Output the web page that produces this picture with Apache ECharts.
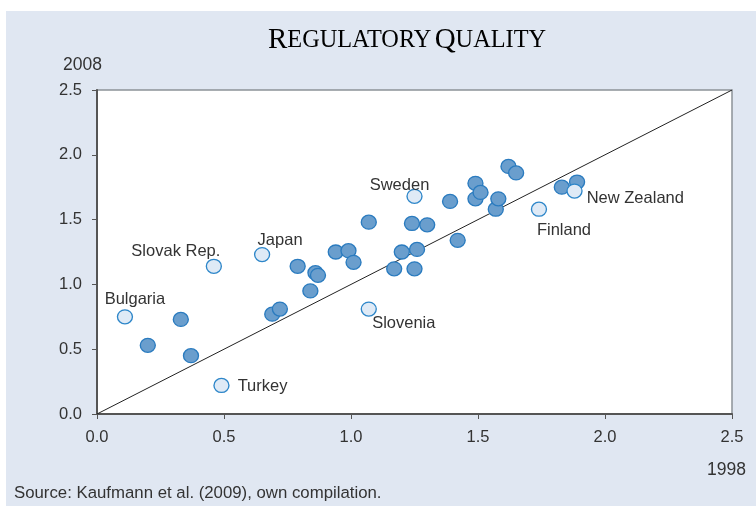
<html>
<head>
	<meta charset="UTF-8">
	<script src="https://cdn.jsdelivr.net/npm/echarts@6/dist/echarts.min.js"></script>
</head>
<body style="margin:0;background:#fff;">
<div id="chart" style="width:756px;height:506px;"></div>
<script type="text/javascript">

        // regulatory quality, x = 1998, y = 2008
        var otherX = [0.20, 0.33, 0.37, 0.69, 0.72, 0.79, 0.84, 0.86, 0.87, 0.94, 0.99, 1.01, 1.07, 1.17, 1.20, 1.25, 1.26, 1.24, 1.30, 1.39, 1.42, 1.49, 1.49, 1.51, 1.57, 1.58, 1.62, 1.65, 1.83, 1.89]
        var otherY = [0.53, 0.73, 0.45, 0.77, 0.81, 1.14, 0.95, 1.09, 1.07, 1.25, 1.26, 1.17, 1.48, 1.12, 1.25, 1.12, 1.27, 1.47, 1.46, 1.64, 1.34, 1.78, 1.66, 1.71, 1.58, 1.66, 1.91, 1.86, 1.75, 1.79]

        var countries = ['Bulgaria', 'Slovak Rep.', 'Japan', 'Turkey', 'Sweden', 'Slovenia', 'Finland', 'New Zealand']
        var countryX  = [0.11, 0.46, 0.65, 0.49, 1.25, 1.07, 1.74, 1.88]
        var countryY  = [0.75, 1.14, 1.23, 0.22, 1.68, 0.81, 1.58, 1.72]

        var ticks = [0, 0.5, 1.0, 1.5, 2.0, 2.5]

        // where each name sits next to its dot
        var labelPlace = {
            'Bulgaria':    {position: 'top', offset: [10, 4]},
            'Slovak Rep.': {position: 'top', offset: [-38, 6]},
            'Japan':       {position: 'top', offset: [18, 7]},
            'Turkey':      {position: 'right', offset: [3, 1]},
            'Sweden':      {position: 'top', offset: [-15, 10]},
            'Slovenia':    {position: 'bottom', offset: [35, -7]},
            'Finland':     {position: 'bottom', offset: [25, 0]},
            'New Zealand': {position: 'right', offset: [-1, 7]}
        }

        var otherData = []
        for (var i = 0; i < otherX.length; i++) {
            otherData.push([otherX[i], otherY[i]])
        }
        var countryData = []
        for (var j = 0; j < countries.length; j++) {
            var p = labelPlace[countries[j]]
            countryData.push({
                name: countries[j],
                value: [countryX[j], countryY[j]],
                label: {show: true, position: p.position, offset: p.offset, formatter: '{b}'}
            })
        }

        var chart = echarts.init(document.getElementById('chart'))

        var axisFont = {color: '#333', fontSize: 16.5, fontFamily: 'Liberation Sans, Arial'}

        option = {
            animation: false,
            backgroundColor: '#fff',
            graphic: [
                {type: 'rect', z: -10, shape: {x: 6, y: 11, width: 750, height: 495}, style: {fill: '#e0e7f2'}},
                {type: 'text', left: 268, top: 26, style: {
                    text: '{b|R}{s|EGULATORY} {b|Q}{s|UALITY}',
                    rich: {
                        b: {fontFamily: 'Liberation Serif', fontSize: 29, color: '#222'},
                        s: {fontFamily: 'Liberation Serif', fontSize: 24.3, color: '#222'}
                    }
                }},
                {type: 'text', left: 63, top: 56, style: {text: '2008', font: '17.5px Liberation Sans', fill: '#333'}},
                {type: 'text', left: 707, top: 461, style: {text: '1998', font: '17.5px Liberation Sans', fill: '#333'}},
                {type: 'text', left: 14, top: 485, style: {text: 'Source: Kaufmann et al. (2009), own compilation.', font: '16.8px Liberation Sans', fill: '#333'}}
            ],
            grid: {
                left: 97, right: 24, top: 90, bottom: 92,
                show: true, backgroundColor: '#fff', borderColor: '#8c9298', borderWidth: 1.5
            },
            xAxis: {
                type: 'value', min: 0, max: 2.5, interval: 0.5,
                splitLine: {show: false},
                axisLine: {lineStyle: {color: '#555', width: 2}},
                axisTick: {show: true, length: 5, lineStyle: {color: '#555'}},
                axisLabel: Object.assign({margin: 15, formatter: function (v) { return v.toFixed(1) }}, axisFont)
            },
            yAxis: {
                type: 'value', min: 0, max: 2.5, interval: 0.5,
                splitLine: {show: false},
                axisLine: {show: true, lineStyle: {color: '#555', width: 2}},
                axisTick: {show: true, length: 5, lineStyle: {color: '#555'}},
                axisLabel: Object.assign({margin: 15, formatter: function (v) { return v.toFixed(1) }}, axisFont)
            },
            series: [
                {
                    type: 'line',
                    data: [[ticks[0], ticks[0]], [ticks[5], ticks[5]]],
                    symbol: 'none',
                    lineStyle: {color: '#222', width: 1},
                    z: 1
                },
                {
                    type: 'scatter',
                    data: otherData,
                    symbolSize: [15, 14],
                    itemStyle: {color: '#6a9ecd', borderColor: '#2a7bbf', borderWidth: 1.3, opacity: 1},
                    z: 2
                },
                {
                    type: 'scatter',
                    data: countryData,
                    symbolSize: [15, 14],
                    itemStyle: {color: '#dfeaf6', borderColor: '#2d86c9', borderWidth: 1.3, opacity: 1},
                    label: {color: '#333', fontSize: 16.5, fontFamily: 'Liberation Sans, Arial', distance: 5},
                    z: 3
                }
            ]
        };

        chart.setOption(option);

</script>
</body>
</html>
